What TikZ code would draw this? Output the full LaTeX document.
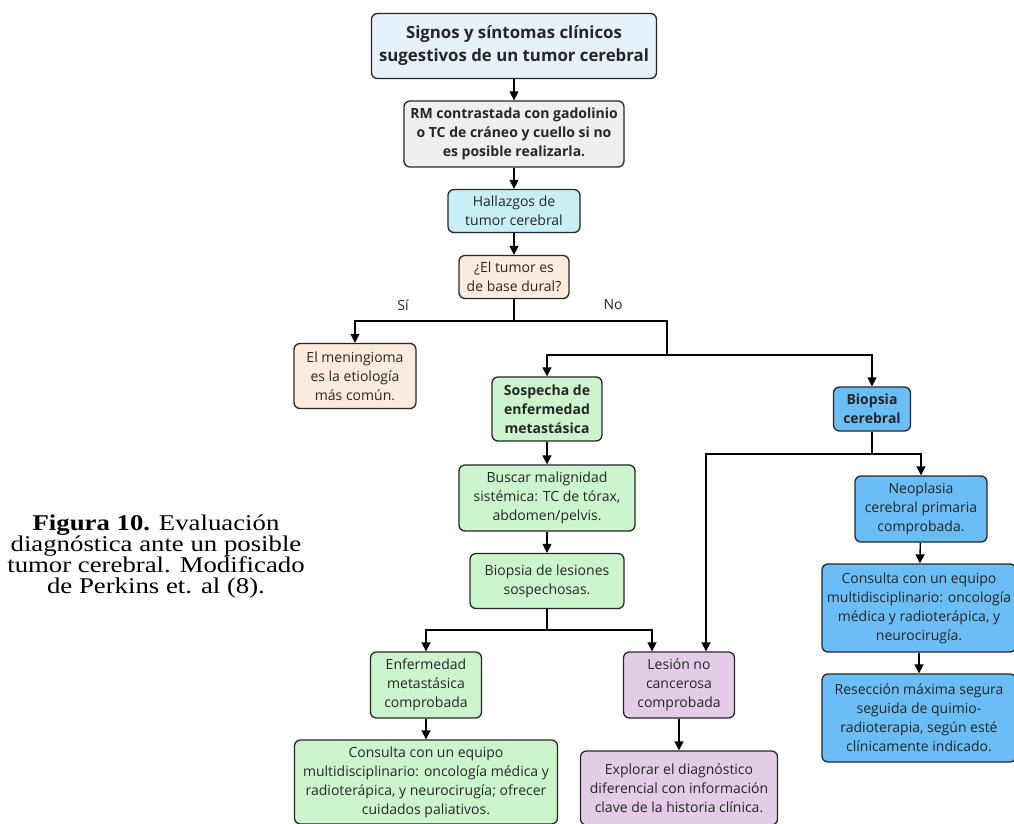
\documentclass[tikz,border=0pt]{standalone}
\usepackage{fontspec}
\setmainfont{Open Sans}
\newfontfamily\capfont{Liberation Serif}
\usetikzlibrary{arrows.meta}
\definecolor{azulclaro}{HTML}{E6F1FC}
\definecolor{grisclaro}{HTML}{EFEFEF}
\definecolor{cian}{HTML}{C8EFF6}
\definecolor{durazno}{HTML}{FDEBDD}
\definecolor{verde}{HTML}{CDF5CD}
\definecolor{lila}{HTML}{E3CCE6}
\definecolor{azul}{HTML}{6BBDF5}
\begin{document}
\begin{tikzpicture}[x=1pt,y=-1pt]
	\tikzstyle{caja}=[rectangle, rounded corners=6pt, draw=black!85, line width=1.3pt, align=center, inner sep=2pt, text=black!85, font=\fontsize{14}{19}\selectfont]
	\tikzstyle{negrita}=[font=\fontsize{14}{19}\selectfont\bfseries]
	\tikzstyle{flecha}=[-{Triangle[length=9pt,width=9pt]}, line width=1.4pt]
	\tikzstyle{linea}=[line width=1.4pt]
	\useasboundingbox (0,0) rectangle (1014,823);

	% columna central
	\node[caja, fill=azulclaro, minimum width=285pt, minimum height=65pt, font=\fontsize{16.8}{23}\selectfont\bfseries] (signos) at (514,46) {Signos y síntomas clínicos\\sugestivos de un tumor cerebral};
	\node[caja, negrita, fill=grisclaro, minimum width=220pt, minimum height=66pt] (rm) at (514,134) {RM contrastada con gadolinio\\o TC de cráneo y cuello si no\\es posible realizarla.};
	\node[caja, fill=cian, minimum width=132pt, minimum height=43pt] (hallazgos) at (514,211) {Hallazgos de\\tumor cerebral};
	\node[caja, fill=durazno, minimum width=110pt, minimum height=43pt] (dural) at (514,277) {¿El tumor es\\de base dural?};
	\node[font=\fontsize{14}{19}\selectfont, text=black!85] (si) at (403,305) {Sí};
	\node[font=\fontsize{14}{19}\selectfont, text=black!85] (no) at (613,305) {No};

	\node[caja, fill=durazno, minimum width=122pt, minimum height=65pt] (menin) at (355,376) {El meningioma\\es la etiología\\más común.};

	% rama metastasica
	\node[caja, negrita, fill=verde, minimum width=110pt, minimum height=64pt] (sospecha) at (547,409) {Sospecha de\\enfermedad\\metastásica};
	\node[caja, fill=verde, minimum width=176pt, minimum height=66pt] (buscar) at (547,498) {Buscar malignidad\\sistémica: TC de tórax,\\abdomen/pelvis.};
	\node[caja, fill=verde, minimum width=154pt, minimum height=55pt] (biolesion) at (547,581) {Biopsia de lesiones\\sospechosas.};
	\node[caja, fill=verde, minimum width=111pt, minimum height=66pt] (enfermedad) at (426,685) {Enfermedad\\metastásica\\comprobada};
	\node[caja, fill=verde, minimum width=263pt, minimum height=84pt] (consultamet) at (426,782) {Consulta con un equipo\\multidisciplinario: oncología médica y\\radioterápica, y neurocirugía; ofrecer\\cuidados paliativos.};
	\node[caja, fill=lila, minimum width=111pt, minimum height=66pt] (lesion) at (679,685) {Lesión no\\cancerosa\\comprobada};
	\node[caja, fill=lila, minimum width=197pt, minimum height=74pt] (explorar) at (679,788) {Explorar el diagnóstico\\diferencial con información\\clave de la historia clínica.};

	% rama primaria
	\node[caja, negrita, fill=azul, minimum width=77pt, minimum height=44pt] (biopcer) at (872,409) {Biopsia\\cerebral};
	\node[caja, fill=azul, minimum width=132pt, minimum height=66pt] (neoplasia) at (921,509) {Neoplasia\\cerebral primaria\\comprobada.};
	\node[caja, fill=azul, minimum width=194pt, minimum height=88pt] (consultaprim) at (919,608) {Consulta con un equipo\\multidisciplinario: oncología\\médica y radioterápica, y\\neurocirugía.};
	\node[caja, fill=azul, minimum width=194pt, minimum height=88pt] (reseccion) at (919,718) {Resección máxima segura\\seguida de quimio-\\radioterapia, según esté\\clínicamente indicado.};

	\node[font=\capfont\fontsize{22.5}{21}\selectfont, align=center, xscale=1.19] (pie) at (156,557) {\textbf{Figura 10.} Evaluación\\diagnóstica ante un posible\\tumor cerebral. Modificado\\de Perkins et. al (8).};

	% conectores
	\coordinate (sidiv) at (514,321);
	\coordinate (nodiv) at (667,321);
	\coordinate (nojunta) at (667,355);
	\coordinate (bcdiv) at (872,454);
	\coordinate (bldiv) at (547,630);

	\draw[flecha] (signos) -- (rm);
	\draw[flecha] (rm) -- (hallazgos);
	\draw[flecha] (hallazgos) -- (dural);
	\draw[linea] (dural) -- (sidiv) -- (nodiv) -- (nojunta);
	\draw[flecha] (sidiv) -| (menin);
	\draw[flecha] (nojunta) -| (sospecha);
	\draw[flecha] (nojunta) -| (biopcer);
	\draw[flecha] (sospecha) -- (buscar);
	\draw[flecha] (buscar) -- (biolesion);
	\draw[linea] (biolesion) -- (bldiv);
	\draw[flecha] (bldiv) -| (enfermedad);
	\draw[flecha] (bldiv) -| ([xshift=-27pt]lesion.north);
	\draw[flecha] (enfermedad) -- (consultamet);
	\draw[flecha] (lesion) -- (explorar);
	\draw[linea] (biopcer) -- (bcdiv);
	\draw[flecha] (bcdiv) -| (neoplasia);
	\draw[flecha] (bcdiv) -| ([xshift=27pt]lesion.north);
	\draw[flecha] (neoplasia) -- (consultaprim);
	\draw[flecha] (consultaprim) -- (reseccion);
\end{tikzpicture}
\end{document}
